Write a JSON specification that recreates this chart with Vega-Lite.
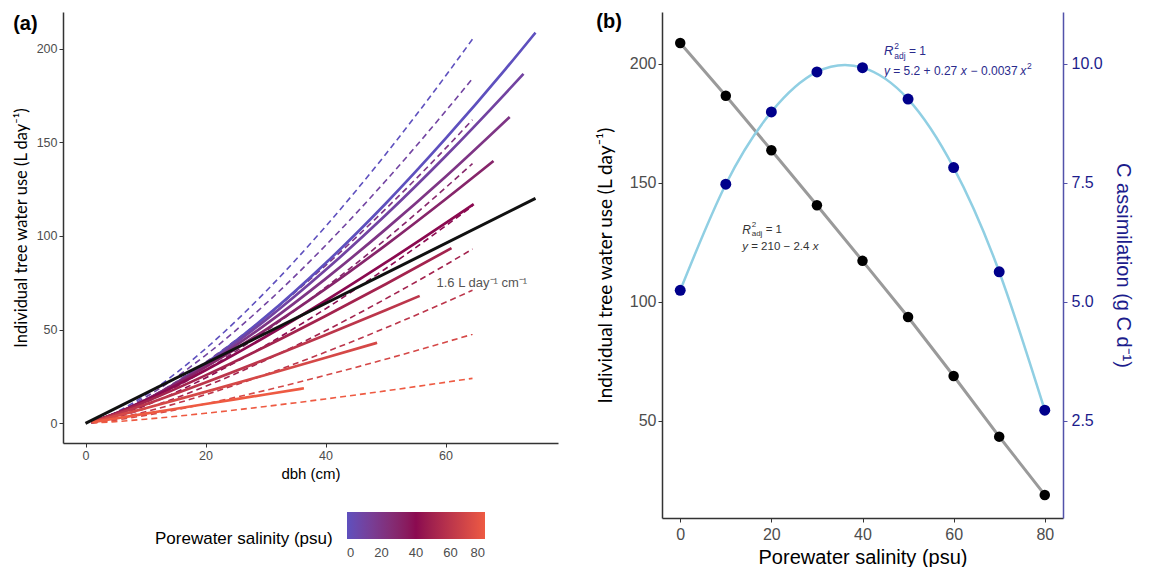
{
  "$schema": "https://vega.github.io/schema/vega-lite/v6.json",
  "padding": {"left": 13, "top": 12, "right": 0, "bottom": 0},
  "background": "white",
  "spacing": 38,
  "config": {
    "view": {"stroke": null},
    "font": "Liberation Sans",
    "axis": {"grid": false, "domainColor": "#333333", "domainWidth": 1.5, "tickColor": "#333333", "tickSize": 4, "labelPadding": 2, "labelColor": "#4d4d4d", "labelFont": "Liberation Sans", "titleFont": "Liberation Sans", "titleFontWeight": "normal", "titleColor": "black"}
  },
  "datasets": {
    "wu": [
      {"sal":0,"type":"solid","dbh":1,"wu":0.45},{"sal":0,"type":"solid","dbh":5,"wu":4.46},{"sal":0,"type":"solid","dbh":10,"wu":11.93},{"sal":0,"type":"solid","dbh":20,"wu":31.9},{"sal":0,"type":"solid","dbh":30,"wu":56.8},{"sal":0,"type":"solid","dbh":40,"wu":85.4},{"sal":0,"type":"solid","dbh":50,"wu":117.2},{"sal":0,"type":"solid","dbh":60,"wu":151.9},{"sal":0,"type":"solid","dbh":70,"wu":189.0},{"sal":0,"type":"solid","dbh":75,"wu":208.5},
      {"sal":10,"type":"solid","dbh":1,"wu":0.52},{"sal":10,"type":"solid","dbh":5,"wu":4.74},{"sal":10,"type":"solid","dbh":10,"wu":12.24},{"sal":10,"type":"solid","dbh":20,"wu":31.6},{"sal":10,"type":"solid","dbh":30,"wu":55.1},{"sal":10,"type":"solid","dbh":40,"wu":81.8},{"sal":10,"type":"solid","dbh":50,"wu":111.0},{"sal":10,"type":"solid","dbh":60,"wu":142.5},{"sal":10,"type":"solid","dbh":70,"wu":176.1},{"sal":10,"type":"solid","dbh":73,"wu":186.5},
      {"sal":20,"type":"solid","dbh":1,"wu":0.59},{"sal":20,"type":"solid","dbh":5,"wu":4.95},{"sal":20,"type":"solid","dbh":10,"wu":12.37},{"sal":20,"type":"solid","dbh":20,"wu":30.9},{"sal":20,"type":"solid","dbh":30,"wu":52.7},{"sal":20,"type":"solid","dbh":40,"wu":77.1},{"sal":20,"type":"solid","dbh":50,"wu":103.5},{"sal":20,"type":"solid","dbh":60,"wu":131.6},{"sal":20,"type":"solid","dbh":70.7,"wu":163.5},
      {"sal":30,"type":"solid","dbh":1,"wu":0.69},{"sal":30,"type":"solid","dbh":5,"wu":5.22},{"sal":30,"type":"solid","dbh":10,"wu":12.5},{"sal":30,"type":"solid","dbh":20,"wu":30.0},{"sal":30,"type":"solid","dbh":30,"wu":49.9},{"sal":30,"type":"solid","dbh":40,"wu":71.7},{"sal":30,"type":"solid","dbh":50,"wu":95.0},{"sal":30,"type":"solid","dbh":60,"wu":119.6},{"sal":30,"type":"solid","dbh":68,"wu":140.0},
      {"sal":40,"type":"solid","dbh":1,"wu":0.75},{"sal":40,"type":"solid","dbh":5,"wu":5.28},{"sal":40,"type":"solid","dbh":10,"wu":12.2},{"sal":40,"type":"solid","dbh":20,"wu":28.3},{"sal":40,"type":"solid","dbh":30,"wu":46.2},{"sal":40,"type":"solid","dbh":40,"wu":65.4},{"sal":40,"type":"solid","dbh":50,"wu":85.7},{"sal":40,"type":"solid","dbh":60,"wu":106.8},{"sal":40,"type":"solid","dbh":64.7,"wu":117.0},
      {"sal":50,"type":"solid","dbh":1,"wu":0.79},{"sal":50,"type":"solid","dbh":5,"wu":5.14},{"sal":50,"type":"solid","dbh":10,"wu":11.5},{"sal":50,"type":"solid","dbh":20,"wu":25.6},{"sal":50,"type":"solid","dbh":30,"wu":41.0},{"sal":50,"type":"solid","dbh":40,"wu":57.3},{"sal":50,"type":"solid","dbh":50,"wu":74.2},{"sal":50,"type":"solid","dbh":61,"wu":93.5},
      {"sal":60,"type":"solid","dbh":1,"wu":0.78},{"sal":60,"type":"solid","dbh":5,"wu":4.68},{"sal":60,"type":"solid","dbh":10,"wu":10.1},{"sal":60,"type":"solid","dbh":20,"wu":21.8},{"sal":60,"type":"solid","dbh":30,"wu":34.2},{"sal":60,"type":"solid","dbh":40,"wu":47.1},{"sal":60,"type":"solid","dbh":50,"wu":60.3},{"sal":60,"type":"solid","dbh":55.7,"wu":68.0},
      {"sal":70,"type":"solid","dbh":1,"wu":0.70},{"sal":70,"type":"solid","dbh":5,"wu":3.86},{"sal":70,"type":"solid","dbh":10,"wu":8.05},{"sal":70,"type":"solid","dbh":20,"wu":16.8},{"sal":70,"type":"solid","dbh":30,"wu":25.8},{"sal":70,"type":"solid","dbh":40,"wu":35.0},{"sal":70,"type":"solid","dbh":48.6,"wu":43.0},
      {"sal":80,"type":"solid","dbh":1,"wu":0.51},{"sal":80,"type":"solid","dbh":5,"wu":2.57},{"sal":80,"type":"solid","dbh":10,"wu":5.14},{"sal":80,"type":"solid","dbh":20,"wu":10.3},{"sal":80,"type":"solid","dbh":30,"wu":15.4},{"sal":80,"type":"solid","dbh":36.4,"wu":18.7},
      {"sal":0,"type":"dashed","dbh":1,"wu":0.60},{"sal":0,"type":"dashed","dbh":5,"wu":5.71},{"sal":0,"type":"dashed","dbh":10,"wu":15.1},{"sal":0,"type":"dashed","dbh":20,"wu":39.8},{"sal":0,"type":"dashed","dbh":30,"wu":70.2},{"sal":0,"type":"dashed","dbh":40,"wu":105.0},{"sal":0,"type":"dashed","dbh":50,"wu":143.5},{"sal":0,"type":"dashed","dbh":60,"wu":185.3},{"sal":0,"type":"dashed","dbh":64.5,"wu":205.0},
      {"sal":10,"type":"dashed","dbh":1,"wu":0.57},{"sal":10,"type":"dashed","dbh":5,"wu":5.33},{"sal":10,"type":"dashed","dbh":10,"wu":13.9},{"sal":10,"type":"dashed","dbh":20,"wu":36.3},{"sal":10,"type":"dashed","dbh":30,"wu":63.7},{"sal":10,"type":"dashed","dbh":40,"wu":94.9},{"sal":10,"type":"dashed","dbh":50,"wu":129.3},{"sal":10,"type":"dashed","dbh":60,"wu":166.5},{"sal":10,"type":"dashed","dbh":64.5,"wu":184.0},
      {"sal":20,"type":"dashed","dbh":1,"wu":0.54},{"sal":20,"type":"dashed","dbh":5,"wu":4.87},{"sal":20,"type":"dashed","dbh":10,"wu":12.6},{"sal":20,"type":"dashed","dbh":20,"wu":32.6},{"sal":20,"type":"dashed","dbh":30,"wu":56.8},{"sal":20,"type":"dashed","dbh":40,"wu":84.2},{"sal":20,"type":"dashed","dbh":50,"wu":114.3},{"sal":20,"type":"dashed","dbh":60,"wu":146.7},{"sal":20,"type":"dashed","dbh":64.5,"wu":162.0},
      {"sal":30,"type":"dashed","dbh":1,"wu":0.49},{"sal":30,"type":"dashed","dbh":5,"wu":4.33},{"sal":30,"type":"dashed","dbh":10,"wu":11.1},{"sal":30,"type":"dashed","dbh":20,"wu":28.4},{"sal":30,"type":"dashed","dbh":30,"wu":49.1},{"sal":30,"type":"dashed","dbh":40,"wu":72.5},{"sal":30,"type":"dashed","dbh":50,"wu":98.1},{"sal":30,"type":"dashed","dbh":60,"wu":125.7},{"sal":30,"type":"dashed","dbh":64.5,"wu":138.6},
      {"sal":40,"type":"dashed","dbh":1,"wu":0.44},{"sal":40,"type":"dashed","dbh":5,"wu":3.77},{"sal":40,"type":"dashed","dbh":10,"wu":9.54},{"sal":40,"type":"dashed","dbh":20,"wu":24.2},{"sal":40,"type":"dashed","dbh":30,"wu":41.6},{"sal":40,"type":"dashed","dbh":40,"wu":61.1},{"sal":40,"type":"dashed","dbh":50,"wu":82.5},{"sal":40,"type":"dashed","dbh":60,"wu":105.3},{"sal":40,"type":"dashed","dbh":64.5,"wu":116.0},
      {"sal":50,"type":"dashed","dbh":1,"wu":0.37},{"sal":50,"type":"dashed","dbh":5,"wu":3.14},{"sal":50,"type":"dashed","dbh":10,"wu":7.87},{"sal":50,"type":"dashed","dbh":20,"wu":19.7},{"sal":50,"type":"dashed","dbh":30,"wu":33.7},{"sal":50,"type":"dashed","dbh":40,"wu":49.4},{"sal":50,"type":"dashed","dbh":50,"wu":66.4},{"sal":50,"type":"dashed","dbh":60,"wu":84.5},{"sal":50,"type":"dashed","dbh":64.5,"wu":93.0},
      {"sal":60,"type":"dashed","dbh":1,"wu":0.30},{"sal":60,"type":"dashed","dbh":5,"wu":2.49},{"sal":60,"type":"dashed","dbh":10,"wu":6.18},{"sal":60,"type":"dashed","dbh":20,"wu":15.3},{"sal":60,"type":"dashed","dbh":30,"wu":26.0},{"sal":60,"type":"dashed","dbh":40,"wu":38.0},{"sal":60,"type":"dashed","dbh":50,"wu":50.9},{"sal":60,"type":"dashed","dbh":60,"wu":64.6},{"sal":60,"type":"dashed","dbh":64.5,"wu":71.0},
      {"sal":70,"type":"dashed","dbh":1,"wu":0.22},{"sal":70,"type":"dashed","dbh":5,"wu":1.73},{"sal":70,"type":"dashed","dbh":10,"wu":4.25},{"sal":70,"type":"dashed","dbh":20,"wu":10.4},{"sal":70,"type":"dashed","dbh":30,"wu":17.6},{"sal":70,"type":"dashed","dbh":40,"wu":25.6},{"sal":70,"type":"dashed","dbh":50,"wu":34.2},{"sal":70,"type":"dashed","dbh":60,"wu":43.3},{"sal":70,"type":"dashed","dbh":64.5,"wu":47.5},
      {"sal":80,"type":"dashed","dbh":1,"wu":0.12},{"sal":80,"type":"dashed","dbh":5,"wu":0.91},{"sal":80,"type":"dashed","dbh":10,"wu":2.21},{"sal":80,"type":"dashed","dbh":20,"wu":5.36},{"sal":80,"type":"dashed","dbh":30,"wu":9.0},{"sal":80,"type":"dashed","dbh":40,"wu":13.0},{"sal":80,"type":"dashed","dbh":50,"wu":17.3},{"sal":80,"type":"dashed","dbh":60,"wu":21.9},{"sal":80,"type":"dashed","dbh":64.5,"wu":24.0}
    ],
    "lin16": [{"dbh":0,"wu":0},{"dbh":75,"wu":120}],
    "lab16": [{"dbh":58.5,"wu":74.7,"t":"1.6 L day⁻¹ cm⁻¹"}],
    "bpts": [{"sal":0,"wu":208.8},{"sal":10,"wu":186.6},{"sal":20,"wu":163.7},{"sal":30,"wu":140.6},{"sal":40,"wu":117.2},{"sal":50,"wu":93.6},{"sal":60,"wu":68.8},{"sal":70,"wu":43.3},{"sal":80,"wu":18.8}],
    "cpts": [{"sal":0,"c":5.24},{"sal":10,"c":7.47},{"sal":20,"c":8.99},{"sal":30,"c":9.83},{"sal":40,"c":9.92},{"sal":50,"c":9.26},{"sal":60,"c":7.82},{"sal":70,"c":5.63},{"sal":80,"c":2.72}]
  },
  "resolve": {"scale": {"color": "independent"}},
  "hconcat": [
    {
      "width": 495,
      "height": 431,
      "title": {"text": "(a)", "anchor": "start", "frame": "bounds", "fontSize": 20, "fontWeight": "bold", "font": "Liberation Sans", "offset": -22, "color": "black"},
      "data": {"name": "wu"},
      "encoding": {
        "x": {"field": "dbh", "type": "quantitative", "scale": {"domain": [-3.75, 78.75], "nice": false, "zero": false}, "axis": {"values": [0, 20, 40, 60], "title": "dbh (cm)", "labelFontSize": 12.5, "titleFontSize": 15, "titlePadding": 5, "labelFlush": false}},
        "y": {"field": "wu", "type": "quantitative", "scale": {"domain": [-10.5, 219.5], "nice": false, "zero": false}, "axis": {"values": [0, 50, 100, 150, 200], "title": "Individual tree water use (L day⁻¹)", "titleFont": "Lato", "labelFontSize": 12.5, "titleFontSize": 16.5, "titlePadding": 7}}
      },
      "layer": [
        {
          "transform": [{"filter": "datum.type === 'dashed'"}],
          "mark": {"type": "line", "strokeDash": [6, 4], "strokeWidth": 1.6, "interpolate": "monotone"},
          "encoding": {
            "color": {"field": "sal", "type": "quantitative", "scale": {"domain": [0, 40, 80], "range": ["#5e50be", "#8b0a50", "#ee5a42"], "interpolate": "lab"},
              "legend": {"orient": "none", "legendX": 92, "legendY": 500, "direction": "horizontal", "titleOrient": "left", "title": "Porewater salinity (psu)", "titleFontSize": 17, "titleFontWeight": "normal", "titleColor": "black", "titleFont": "Liberation Sans", "titleAnchor": "end", "titleBaseline": "middle", "titlePadding": 14, "gradientLength": 138, "gradientThickness": 27, "gradientStrokeWidth": 0, "values": [0, 20, 40, 60, 80], "labelFontSize": 13, "labelColor": "#4d4d4d", "labelOffset": 8}},
            "detail": {"field": "sal", "type": "nominal"}
          }
        },
        {
          "transform": [{"filter": "datum.type === 'solid'"}],
          "mark": {"type": "line", "strokeWidth": 2.7, "interpolate": "monotone"},
          "encoding": {
            "color": {"field": "sal", "type": "quantitative", "scale": {"domain": [0, 40, 80], "range": ["#5e50be", "#8b0a50", "#ee5a42"], "interpolate": "lab"},
              "legend": {"orient": "none", "legendX": 92, "legendY": 500, "direction": "horizontal", "titleOrient": "left", "title": "Porewater salinity (psu)", "titleFontSize": 17, "titleFontWeight": "normal", "titleColor": "black", "titleFont": "Liberation Sans", "titleAnchor": "end", "titleBaseline": "middle", "titlePadding": 14, "gradientLength": 138, "gradientThickness": 27, "gradientStrokeWidth": 0, "values": [0, 20, 40, 60, 80], "labelFontSize": 13, "labelColor": "#4d4d4d", "labelOffset": 8}},
            "detail": {"field": "sal", "type": "nominal"}
          }
        },
        {
          "data": {"name": "lin16"},
          "mark": {"type": "line", "color": "#111111", "strokeWidth": 3},
          "encoding": {}
        },
        {
          "data": {"name": "lab16"},
          "mark": {"type": "text", "align": "left", "baseline": "middle", "fontSize": 13, "color": "#555555"},
          "encoding": {"text": {"field": "t"}}
        }
      ]
    },
    {
      "width": 401,
      "height": 506,
      "title": {"text": "(b)", "anchor": "start", "frame": "bounds", "fontSize": 20, "fontWeight": "bold", "font": "Liberation Sans", "offset": -20, "color": "black"},
      "encoding": {
        "x": {"field": "sal", "type": "quantitative", "scale": {"domain": [-4, 84], "nice": false, "zero": false}, "axis": {"values": [0, 20, 40, 60, 80], "title": "Porewater salinity (psu)", "labelFontSize": 16, "labelPadding": 4, "titleFontSize": 20, "titlePadding": 5, "labelFlush": false}}
      },
      "layer": [
        {
          "encoding": {"y": {"field": "wu", "type": "quantitative", "scale": {"domain": [9.1, 221.8], "nice": false, "zero": false}, "axis": {"values": [50, 100, 150, 200], "title": "Individual tree water use (L day⁻¹)", "titleFont": "Lato", "labelFontSize": 16, "titleFontSize": 19, "titlePadding": 14}}},
          "layer": [
            {"data": {"name": "bpts"}, "mark": {"type": "line", "color": "#9a9a9a", "strokeWidth": 3}},
            {"data": {"name": "bpts"}, "mark": {"type": "circle", "color": "black", "size": 110, "opacity": 1}},
            {
              "data": {"values": [{"sal": 13.6, "wu": 130.3}]},
              "layer": [
                {"mark": {"type": "text", "text": "R", "fontStyle": "italic", "fontSize": 12, "align": "left", "baseline": "middle", "color": "#333333"}},
                {"mark": {"type": "text", "text": "2", "fontSize": 8, "align": "left", "baseline": "middle", "dx": 9.5, "dy": -5, "color": "#333333"}},
                {"mark": {"type": "text", "text": "adj", "fontSize": 8, "align": "left", "baseline": "middle", "dx": 9.5, "dy": 4, "color": "#333333"}},
                {"mark": {"type": "text", "text": "= 1", "fontSize": 11.5, "align": "left", "baseline": "middle", "dx": 23.5, "color": "#333333"}}
              ]
            },
            {
              "data": {"values": [{"sal": 13.6, "wu": 123}]},
              "layer": [
                {"mark": {"type": "text", "text": "y", "fontStyle": "italic", "fontSize": 11.5, "align": "left", "baseline": "middle", "color": "#333333"}},
                {"mark": {"type": "text", "text": "= 210 − 2.4", "fontSize": 11.5, "align": "left", "baseline": "middle", "dx": 9, "color": "#333333"}},
                {"mark": {"type": "text", "text": "x", "fontStyle": "italic", "fontSize": 11.5, "align": "left", "baseline": "middle", "dx": 70.5, "color": "#333333"}}
              ]
            },
            {
              "data": {"values": [{"sal": 44.7, "wu": 205.3}]},
              "layer": [
                {"mark": {"type": "text", "text": "R", "fontStyle": "italic", "fontSize": 13, "align": "left", "baseline": "middle", "color": "#2a2a8c"}},
                {"mark": {"type": "text", "text": "2", "fontSize": 8.5, "align": "left", "baseline": "middle", "dx": 10.3, "dy": -5.5, "color": "#2a2a8c"}},
                {"mark": {"type": "text", "text": "adj", "fontSize": 8.5, "align": "left", "baseline": "middle", "dx": 10.3, "dy": 4.5, "color": "#2a2a8c"}},
                {"mark": {"type": "text", "text": "= 1", "fontSize": 12, "align": "left", "baseline": "middle", "dx": 25, "color": "#2a2a8c"}}
              ]
            },
            {
              "data": {"values": [{"sal": 44.7, "wu": 196.9}]},
              "layer": [
                {"mark": {"type": "text", "text": "y", "fontStyle": "italic", "fontSize": 12, "align": "left", "baseline": "middle", "color": "#2a2a8c"}},
                {"mark": {"type": "text", "text": "= 5.2 + 0.27", "fontSize": 12, "align": "left", "baseline": "middle", "dx": 9.3, "color": "#2a2a8c"}},
                {"mark": {"type": "text", "text": "x", "fontStyle": "italic", "fontSize": 12, "align": "left", "baseline": "middle", "dx": 76.9, "color": "#2a2a8c"}},
                {"mark": {"type": "text", "text": "− 0.0037", "fontSize": 12, "align": "left", "baseline": "middle", "dx": 86.7, "color": "#2a2a8c"}},
                {"mark": {"type": "text", "text": "x", "fontStyle": "italic", "fontSize": 12, "align": "left", "baseline": "middle", "dx": 136.4, "color": "#2a2a8c"}},
                {"mark": {"type": "text", "text": "2", "fontSize": 8.5, "align": "left", "baseline": "middle", "dx": 143, "dy": -5.5, "color": "#2a2a8c"}}
              ]
            }
          ]
        },
        {
          "data": {"name": "cpts"},
          "encoding": {"y": {"field": "c", "type": "quantitative", "scale": {"domain": [0.455, 11.09], "nice": false, "zero": false}, "axis": {"orient": "right", "values": [2.5, 5, 7.5, 10], "format": ".1f", "title": "C assimilation (g C d⁻¹)", "labelFontSize": 16, "labelPadding": 4, "titleFontSize": 20, "titlePadding": 10, "domainColor": "#5252aa", "tickColor": "#5252aa", "labelColor": "#1c1c8c", "titleColor": "#1c1c8c"}}},
          "layer": [
            {"mark": {"type": "line", "color": "#90cfe3", "strokeWidth": 2.5, "interpolate": "natural"}},
            {"mark": {"type": "circle", "color": "#00008b", "size": 120, "opacity": 1}}
          ]
        }
      ],
      "resolve": {"scale": {"y": "independent"}}
    }
  ]
}
